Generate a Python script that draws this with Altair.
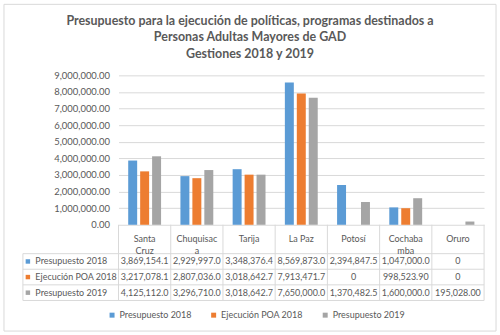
import altair as alt
import pandas as pd

title_lines = [
    "Presupuesto para la ejecución de políticas, programas destinados a",
    "Personas Adultas Mayores de GAD",
    "Gestiones 2018 y 2019",
]
categories = ["Santa Cruz", "Chuquisaca", "Tarija", "La Paz", "Potosí", "Cochabamba", "Oruro"]
header_labels = ["Santa\nCruz", "Chuquisac\na", "Tarija", "La Paz", "Potosí", "Cochaba\nmba", "Oruro"]
series = ["Presupuesto 2018", "Ejecución POA 2018", "Presupuesto 2019"]
presupuesto_2018 = [3869154.1, 2929997.0, 3348376.4, 8569873.0, 2394847.5, 1047000.0, 0]
ejecucion_poa_2018 = [3217078.1, 2807036.0, 3018642.7, 7913471.7, 0, 998523.90, 0]
presupuesto_2019 = [4125112.0, 3296710.0, 3018642.7, 7650000.0, 1370482.5, 1600000.0, 195028.00]
series_colors = ["#5b9bd5", "#ed7d31", "#a5a5a5"]
y_ticks = [0, 1000000, 2000000, 3000000, 4000000, 5000000, 6000000, 7000000, 8000000, 9000000]

rows = []
for s, vals in zip(series, [presupuesto_2018, ejecucion_poa_2018, presupuesto_2019]):
    for c, v in zip(categories, vals):
        rows.append({"category": c, "series": s, "value": v})
df = pd.DataFrame(rows)
cat_df = pd.DataFrame({"category": categories, "header": header_labels})
ser_df = pd.DataFrame({"series": series})
one = pd.DataFrame({"k": [0]})

TEXT = "#595959"
GRID = "#d9d9d9"
FONT = "Lato"
W, H = 367, 150
ROWS_H = 47
HEADER_H = 29
FS = 9

color = alt.Color(
    "series:N", sort=series,
    scale=alt.Scale(domain=series, range=series_colors),
    legend=alt.Legend(
        title=None, orient="none", direction="horizontal", legendX=-11, legendY=236,
        symbolType="square", symbolSize=25, symbolStrokeWidth=0, labelFontSize=FS,
        labelColor=TEXT, columnPadding=17, labelOffset=3, padding=0, labelLimit=0,
    ),
)

bars = alt.Chart(df).mark_bar().encode(
    x=alt.X("category:N", sort=categories, axis=None,
            scale=alt.Scale(paddingInner=0.3133, paddingOuter=0.1567)),
    xOffset=alt.XOffset("series:N", sort=series,
                        scale=alt.Scale(paddingInner=0.25, paddingOuter=0.125)),
    y=alt.Y("value:Q", scale=alt.Scale(domain=[0, 9000000], nice=False),
            axis=alt.Axis(values=y_ticks, format=",.2f", title=None, domain=False, ticks=False,
                          labelPadding=9, labelFontSize=9.5, labelColor=TEXT, gridColor=GRID)),
    color=color,
).properties(
    width=W, height=H,
    title=alt.TitleParams(text=title_lines, fontSize=12.5, fontWeight="bold", color=TEXT,
                          anchor="middle", frame="group", dx=-51.5, offset=10, lineHeight=16.5),
)

xband = alt.Scale(type="band", paddingInner=0, paddingOuter=0)
yband = alt.Scale(type="band", paddingInner=0, paddingOuter=0)
y_axis = alt.Axis(title=None, ticks=False, domain=False, grid=False, labelAlign="left",
                  labelPadding=84, labelFontSize=FS, labelColor=TEXT, labelLimit=0)
x_enc = alt.X("category:N", sort=categories, scale=xband, axis=None)
y_enc = alt.Y("series:N", sort=series, scale=yband, axis=y_axis)

values_text = alt.Chart(df).transform_calculate(
    label="datum.value == 0 ? '0' : (datum.value < 1000000 ? format(datum.value, ',.2f') : format(datum.value, ',.1f'))"
).mark_text(fontSize=FS, color=TEXT).encode(x=x_enc, y=y_enc, text="label:N")

header_text = alt.Chart(cat_df).mark_text(
    fontSize=FS, color=TEXT, lineBreak="\n", lineHeight=11.5
).encode(x=x_enc, y=alt.value(-HEADER_H / 2), text="header:N")

squares = alt.Chart(ser_df).mark_square(size=20, opacity=1).encode(
    x=alt.value(-91), y=y_enc, color=color
)

vrules = alt.Chart(cat_df).mark_rule(color=GRID).encode(
    x=alt.X("category:N", sort=categories, scale=xband, axis=None, bandPosition=0),
    y=alt.value(-HEADER_H), y2=alt.value(ROWS_H),
)
right_rule = alt.Chart(one).mark_rule(color=GRID).encode(
    x=alt.value(W), y=alt.value(-HEADER_H), y2=alt.value(ROWS_H))
left_rule = alt.Chart(one).mark_rule(color=GRID).encode(
    x=alt.value(-96), y=alt.value(0), y2=alt.value(ROWS_H))
hrules = alt.Chart(ser_df).mark_rule(color=GRID).encode(
    y=alt.Y("series:N", sort=series, scale=yband, axis=y_axis, bandPosition=0),
    x=alt.value(-96), x2=alt.value(W),
)
bottom_rule = alt.Chart(one).mark_rule(color=GRID).encode(
    y=alt.value(ROWS_H), x=alt.value(-96), x2=alt.value(W))
border = alt.Chart(one).mark_rect(filled=False, stroke=GRID, strokeWidth=1).encode(
    x=alt.value(-115), x2=alt.value(379), y=alt.value(-250.3), y2=alt.value(77.7))

table = alt.layer(
    border, vrules, right_rule, left_rule, hrules, bottom_rule, squares, values_text, header_text
).properties(width=W, height=ROWS_H)

chart = alt.vconcat(bars, table, spacing=HEADER_H, bounds="flush").properties(
    padding={"left": 3, "top": 3, "right": 3, "bottom": 3},
    background="white",
).configure(font=FONT).configure_view(stroke=None)

chart.save("out.html", embed_options={"renderer": "svg", "actions": False})
